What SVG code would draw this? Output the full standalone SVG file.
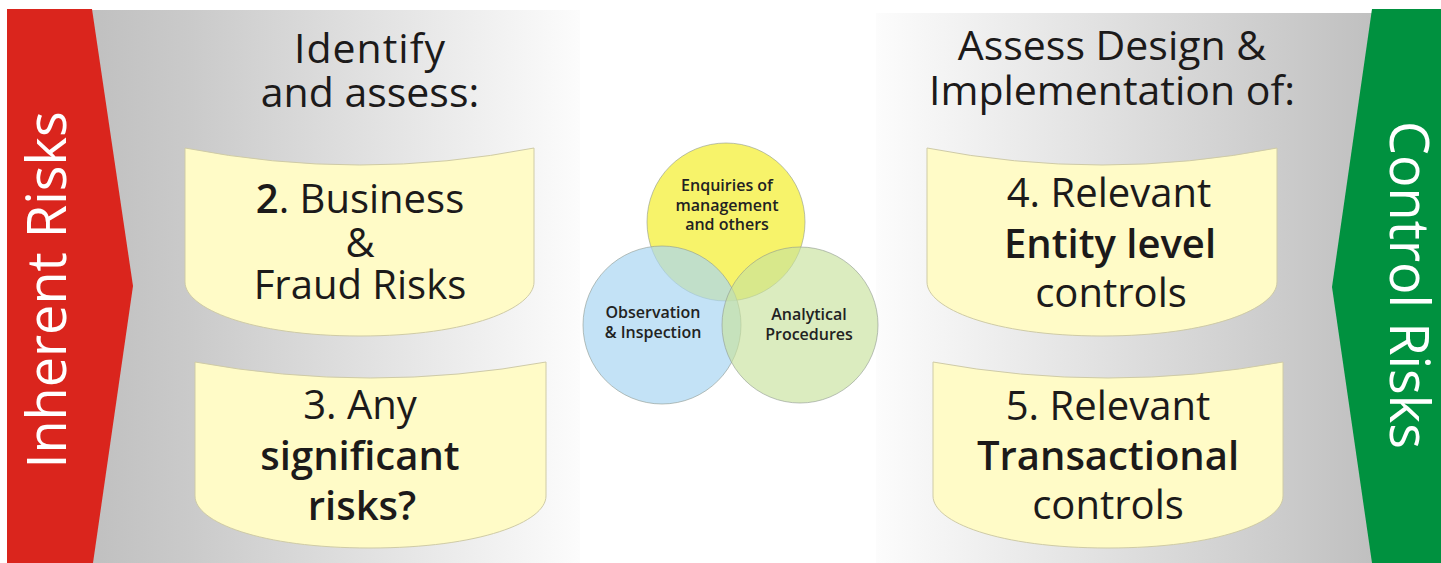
<svg xmlns="http://www.w3.org/2000/svg" width="1441" height="563" viewBox="0 0 1441 563">
  <defs>
    <linearGradient id="gLeft" x1="0" y1="0" x2="1" y2="0">
      <stop offset="0" stop-color="#bdbdbd"/>
      <stop offset="0.25" stop-color="#cacaca"/>
      <stop offset="1" stop-color="#fcfcfc"/>
    </linearGradient>
    <linearGradient id="gRight" x1="0" y1="0" x2="1" y2="0">
      <stop offset="0" stop-color="#fcfcfc"/>
      <stop offset="0.8" stop-color="#cacaca"/>
      <stop offset="1" stop-color="#bdbdbd"/>
    </linearGradient>
  </defs>
  <style>
    .box { fill: #fffbc7; stroke: #cfcba6; stroke-width: 1; }
    .t { font-family: "Open Sans", "Noto Sans", "DejaVu Sans", sans-serif; font-size: 40px; fill: #1c1a1a; text-anchor: middle; }
    .b { font-weight: 600; }
    .title { font-family: "Open Sans", "Noto Sans", "DejaVu Sans", sans-serif; font-weight: 500; font-size: 41px; fill: #1c1a1a; text-anchor: middle; }
    .side { font-family: "Open Sans", "Noto Sans", "DejaVu Sans", sans-serif; font-size: 54px; fill: #ffffff; text-anchor: middle; }
    .circ { stroke: #8f9a90; stroke-width: 1; stroke-opacity: 0.6; }
    .ct { font-family: "Open Sans", "Noto Sans", "DejaVu Sans", sans-serif; font-weight: 600; font-size: 16px; fill: #222222; text-anchor: middle; }
  </style>

  <rect width="1441" height="563" fill="#ffffff"/>

  <g id="left-band">
    <rect x="60" y="10" width="520" height="553" fill="url(#gLeft)"/>
  </g>
  <g id="right-band">
    <rect x="876" y="13" width="520" height="550" fill="url(#gRight)"/>
  </g>

  <g id="inherent-risks">
    <polygon points="7,9 92,9 133,286 93,563 7,563" fill="#da251d"/>
    <text class="side" transform="translate(66,290) rotate(-90)">Inherent Risks</text>
  </g>

  <g id="control-risks">
    <polygon points="1372,9 1441,9 1441,563 1372,563 1332,287" fill="#00913f"/>
    <text class="side" transform="translate(1390,285) rotate(90)">Control Risks</text>
  </g>

  <g id="title-left">
    <text class="title" x="370" y="63" letter-spacing="1">Identify</text>
    <text class="title" x="370" y="107">and assess:</text>
  </g>

  <g id="title-right">
    <text class="title" x="1112" y="60">Assess Design &amp;</text>
    <text class="title" x="1112" y="105">Implementation of:</text>
  </g>

  <g id="box-business">
    <path class="box" d="M185,148 Q360,182 534,148 L534,282 C534,308 470,336 360,336 C250,336 185,308 185,282 Z"/>
    <text class="t" x="360" y="213"><tspan class="b">2</tspan>. Business</text>
    <text class="t" x="360" y="257">&amp;</text>
    <text class="t" x="360" y="299">Fraud Risks</text>
  </g>

  <g id="box-significant">
    <path class="box" d="M195,362 Q370,394 546,362 L546,496 C546,522 480,548 370,548 C260,548 195,522 195,496 Z"/>
    <text class="t" x="360" y="419">3. Any</text>
    <text class="t b" x="360" y="470">significant</text>
    <text class="t b" x="362" y="520">risks?</text>
  </g>

  <g id="box-entity">
    <path class="box" d="M927,148 Q1102,182 1277,148 L1277,282 C1277,308 1212,336 1102,336 C992,336 927,308 927,282 Z"/>
    <text class="t" x="1109" y="207">4. Relevant</text>
    <text class="t b" x="1110" y="258">Entity level</text>
    <text class="t" x="1111" y="307">controls</text>
  </g>

  <g id="box-transactional">
    <path class="box" d="M933,362 Q1108,394 1283,362 L1283,496 C1283,522 1218,548 1108,548 C998,548 933,522 933,496 Z"/>
    <text class="t" x="1108" y="420">5. Relevant</text>
    <text class="t b" x="1108" y="470">Transactional</text>
    <text class="t" x="1108" y="519">controls</text>
  </g>

  <g id="circle-enquiries">
    <circle class="circ" cx="726" cy="222" r="79" fill="#f6f25a" fill-opacity="0.9"/>
  </g>
  <g id="circle-observation">
    <circle class="circ" cx="662" cy="325" r="79" fill="#a9d6f2" fill-opacity="0.7"/>
  </g>
  <g id="circle-analytical">
    <circle class="circ" cx="800" cy="325" r="78" fill="#c8e29c" fill-opacity="0.65"/>
  </g>
  <g id="circle-labels">
    <text class="ct" x="727" y="191">Enquiries of</text>
    <text class="ct" x="727" y="211">management</text>
    <text class="ct" x="727" y="230">and others</text>
    <text class="ct" x="653" y="318">Observation</text>
    <text class="ct" x="653" y="338">&amp; Inspection</text>
    <text class="ct" x="809" y="320">Analytical</text>
    <text class="ct" x="809" y="340">Procedures</text>
  </g>

  <g id="connectors"/>
</svg>
